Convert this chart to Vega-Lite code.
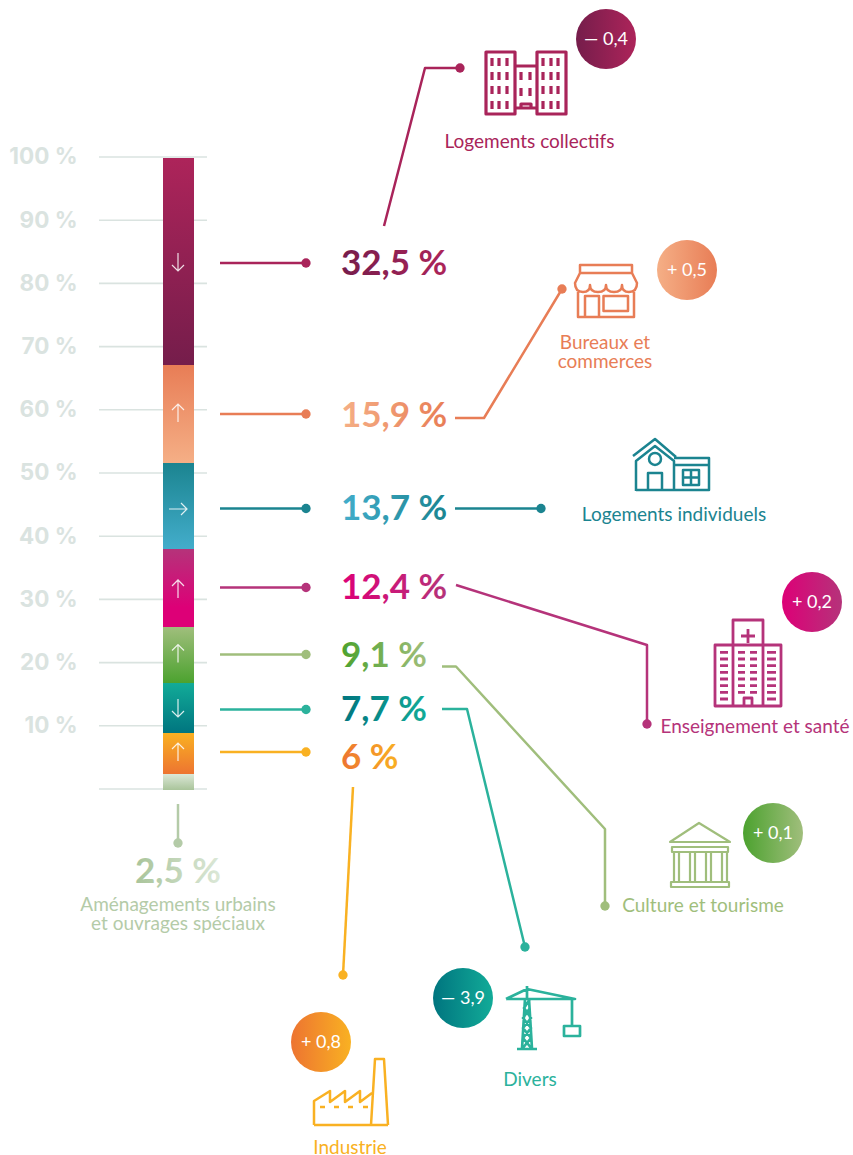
{
"$schema":"https://vega.github.io/schema/vega-lite/v6.json",
"width":853,"height":1155,"padding":0,"autosize":{"type":"none"},
"background":"#ffffff",
"config":{"view":{"stroke":null}},
"datasets":{
"segments":[
{"series":"Logements collectifs","share":32.5,"low":67.25,"high":100,"arrow":"down","arrowPct":83.39},
{"series":"Bureaux et commerces","share":15.9,"low":51.74,"high":67.25,"arrow":"up","arrowPct":59.49},
{"series":"Logements individuels","share":13.7,"low":38.13,"high":51.74,"arrow":"flat","arrowPct":44.3},
{"series":"Enseignement et santé","share":12.4,"low":25.79,"high":38.13,"arrow":"up","arrowPct":31.65},
{"series":"Culture et tourisme","share":9.1,"low":16.93,"high":25.79,"arrow":"up","arrowPct":21.44},
{"series":"Divers","share":7.7,"low":9.02,"high":16.93,"arrow":"down","arrowPct":12.82},
{"series":"Industrie","share":6,"low":2.53,"high":9.02,"arrow":"up","arrowPct":5.85},
{"series":"Aménagements urbains et ouvrages spéciaux","share":2.5,"low":0,"high":2.53}
],
"ticks":[{"pct":0},{"pct":10},{"pct":20},{"pct":30},{"pct":40},{"pct":50},{"pct":60},{"pct":70},{"pct":80},{"pct":90},{"pct":100}],
"connectors":[
{"series":"Logements collectifs","leg":"a1","step":1,"x":220,"pct":83.23},{"series":"Logements collectifs","leg":"a1","step":2,"x":306,"pct":83.23},
{"series":"Logements collectifs","leg":"a2","step":1,"x":384,"pct":89.08},{"series":"Logements collectifs","leg":"a2","step":2,"x":425,"pct":114.08},{"series":"Logements collectifs","leg":"a2","step":3,"x":460,"pct":114.08},
{"series":"Bureaux et commerces","leg":"b1","step":1,"x":220,"pct":59.34},{"series":"Bureaux et commerces","leg":"b1","step":2,"x":306,"pct":59.34},
{"series":"Bureaux et commerces","leg":"b2","step":1,"x":455,"pct":58.7},{"series":"Bureaux et commerces","leg":"b2","step":2,"x":484,"pct":58.7},{"series":"Bureaux et commerces","leg":"b2","step":3,"x":562,"pct":79.11},
{"series":"Logements individuels","leg":"c1","step":1,"x":220,"pct":44.38},{"series":"Logements individuels","leg":"c1","step":2,"x":306,"pct":44.38},
{"series":"Logements individuels","leg":"c2","step":1,"x":455,"pct":44.38},{"series":"Logements individuels","leg":"c2","step":2,"x":541,"pct":44.38},
{"series":"Enseignement et santé","leg":"d1","step":1,"x":220,"pct":31.88},{"series":"Enseignement et santé","leg":"d1","step":2,"x":306,"pct":31.88},
{"series":"Enseignement et santé","leg":"d2","step":1,"x":456,"pct":32.28},{"series":"Enseignement et santé","leg":"d2","step":2,"x":647,"pct":22.78},{"series":"Enseignement et santé","leg":"d2","step":3,"x":647,"pct":10.28},
{"series":"Culture et tourisme","leg":"e1","step":1,"x":220,"pct":21.28},{"series":"Culture et tourisme","leg":"e1","step":2,"x":306,"pct":21.28},
{"series":"Culture et tourisme","leg":"e2","step":1,"x":442,"pct":19.38},{"series":"Culture et tourisme","leg":"e2","step":2,"x":456,"pct":19.38},{"series":"Culture et tourisme","leg":"e2","step":3,"x":605,"pct":-6.33},{"series":"Culture et tourisme","leg":"e2","step":4,"x":605,"pct":-18.51},
{"series":"Divers","leg":"f1","step":1,"x":220,"pct":12.58},{"series":"Divers","leg":"f1","step":2,"x":306,"pct":12.58},
{"series":"Divers","leg":"f2","step":1,"x":442,"pct":12.66},{"series":"Divers","leg":"f2","step":2,"x":467,"pct":12.66},{"series":"Divers","leg":"f2","step":3,"x":525,"pct":-25},
{"series":"Industrie","leg":"g1","step":1,"x":220,"pct":5.85},{"series":"Industrie","leg":"g1","step":2,"x":306,"pct":5.85},
{"series":"Industrie","leg":"g2","step":1,"x":353,"pct":0.32},{"series":"Industrie","leg":"g2","step":2,"x":343,"pct":-29.43},
{"series":"Aménagements urbains et ouvrages spéciaux","leg":"h1","step":1,"x":178,"pct":-2.37},{"series":"Aménagements urbains et ouvrages spéciaux","leg":"h1","step":2,"x":178,"pct":-8.54}
],
"dots":[
{"series":"Logements collectifs","x":306,"pct":83.23},{"series":"Logements collectifs","x":460,"pct":114.08},
{"series":"Bureaux et commerces","x":306,"pct":59.34},{"series":"Bureaux et commerces","x":562,"pct":79.11},
{"series":"Logements individuels","x":306,"pct":44.38},{"series":"Logements individuels","x":541,"pct":44.38},
{"series":"Enseignement et santé","x":306,"pct":31.88},{"series":"Enseignement et santé","x":647,"pct":10.28},
{"series":"Culture et tourisme","x":306,"pct":21.28},{"series":"Culture et tourisme","x":605,"pct":-18.51},
{"series":"Divers","x":306,"pct":12.58},{"series":"Divers","x":525,"pct":-25},
{"series":"Industrie","x":306,"pct":5.85},{"series":"Industrie","x":343,"pct":-29.43},
{"series":"Aménagements urbains et ouvrages spéciaux","x":178,"pct":-8.54}
],
"values":[
{"series":"Logements collectifs","label":"32,5 %","x":341,"pct":83.07},
{"series":"Bureaux et commerces","label":"15,9 %","x":341,"pct":59.02},
{"series":"Logements individuels","label":"13,7 %","x":341,"pct":44.3},
{"series":"Enseignement et santé","label":"12,4 %","x":341,"pct":31.8},
{"series":"Culture et tourisme","label":"9,1 %","x":341,"pct":21.04},
{"series":"Divers","label":"7,7 %","x":341,"pct":12.5},
{"series":"Industrie","label":"6 %","x":341,"pct":4.9}
],
"small":[{"series":"Aménagements urbains et ouvrages spéciaux","label":"2,5 %","x":178,"pct":-13.13}],
"names":[
{"series":"Logements collectifs","label":"Logements collectifs","x":529.5,"pct":102.3},
{"series":"Bureaux et commerces","label":"Bureaux et\ncommerces","x":605,"pct":70.57},
{"series":"Logements individuels","label":"Logements individuels","x":674,"pct":43.28},
{"series":"Enseignement et santé","label":"Enseignement et santé","x":755,"pct":9.74},
{"series":"Culture et tourisme","label":"Culture et tourisme","x":703,"pct":-18.58},
{"series":"Divers","label":"Divers","x":530,"pct":-46.12},
{"series":"Industrie","label":"Industrie","x":350,"pct":-56.8},
{"series":"Aménagements urbains et ouvrages spéciaux","label":"Aménagements urbains\net ouvrages spéciaux","x":178,"pct":-18.35}
],
"badges":[
{"series":"Logements collectifs","change":"— 0,4","x":606,"pct":118.67},
{"series":"Bureaux et commerces","change":"+ 0,5","x":687,"pct":82.12},
{"series":"Enseignement et santé","change":"+ 0,2","x":812,"pct":29.59},
{"series":"Culture et tourisme","change":"+ 0,1","x":773,"pct":-6.96},
{"series":"Divers","change":"— 3,9","x":463,"pct":-33.07},
{"series":"Industrie","change":"+ 0,8","x":321,"pct":-40.03}
],
"icons":[
{"series":"Logements collectifs","x":526,"pct":111.71},
{"series":"Bureaux et commerces","x":606,"pct":78.8},
{"series":"Logements individuels","x":671,"pct":51.27},
{"series":"Enseignement et santé","x":748,"pct":19.94},
{"series":"Culture et tourisme","x":700,"pct":-10.44},
{"series":"Divers","x":543,"pct":-36.23},
{"series":"Industrie","x":350,"pct":-47.94}
]
},
"encoding":{
"y":{"field":"pct","type":"quantitative","scale":{"domain":[-57.91,124.84],"nice":false,"zero":false},
"axis":{"title":null,"values":[10,20,30,40,50,60,70,80,90,100],"labelExpr":"datum.value + ' %'","domain":false,"ticks":false,"grid":false,"offset":-77,"labelPadding":0,"labelFont":"Inter","labelFontWeight":700,"labelFontSize":22.5,"labelColor":"#DAE3E0","labelOverlap":false,"labelBound":false,"labelFlush":false}}
},
"resolve":{"scale":{"shape":"independent"}},
"layer":[
{"data":{"name":"ticks"},"mark":{"type":"rule","color":"#DAE3E0","strokeWidth":1.6},
"encoding":{"x":{"datum":99,"type":"quantitative","scale":{"domain":[0,853],"nice":false,"zero":false},"axis":null},"x2":{"datum":207}}},
{"data":{"name":"segments"},"mark":{"type":"bar","yOffset":1,"y2Offset":1},
"encoding":{"x":{"datum":163,"type":"quantitative","scale":{"domain":[0,853],"nice":false,"zero":false},"axis":null},"x2":{"datum":194},
"y":{"field":"high","type":"quantitative","scale":{"domain":[-57.91,124.84],"nice":false,"zero":false}},"y2":{"field":"low"},
"fill":{"condition":[
{"test":"datum.series==='Logements collectifs'","value":{"gradient":"linear","x1":0,"y1":0,"x2":0,"y2":1,"stops":[{"offset":0,"color":"#AD245A"},{"offset":1,"color":"#751D4B"}]}},
{"test":"datum.series==='Bureaux et commerces'","value":{"gradient":"linear","x1":0,"y1":0,"x2":0,"y2":1,"stops":[{"offset":0,"color":"#E87D56"},{"offset":1,"color":"#F5AF86"}]}},
{"test":"datum.series==='Logements individuels'","value":{"gradient":"linear","x1":0,"y1":0,"x2":0,"y2":1,"stops":[{"offset":0,"color":"#1B8490"},{"offset":1,"color":"#43ADCB"}]}},
{"test":"datum.series==='Enseignement et santé'","value":{"gradient":"linear","x1":0,"y1":0,"x2":0,"y2":1,"stops":[{"offset":0,"color":"#B5337A"},{"offset":0.75,"color":"#DD0077"},{"offset":1,"color":"#DD0077"}]}},
{"test":"datum.series==='Culture et tourisme'","value":{"gradient":"linear","x1":0,"y1":0,"x2":0,"y2":1,"stops":[{"offset":0,"color":"#A0BE7C"},{"offset":1,"color":"#4CA22F"}]}},
{"test":"datum.series==='Divers'","value":{"gradient":"linear","x1":0,"y1":0,"x2":0,"y2":1,"stops":[{"offset":0,"color":"#12AB98"},{"offset":1,"color":"#00757F"}]}},
{"test":"datum.series==='Industrie'","value":{"gradient":"linear","x1":0,"y1":0,"x2":0,"y2":1,"stops":[{"offset":0,"color":"#F9B122"},{"offset":1,"color":"#ED7431"}]}}],
"value":{"gradient":"linear","x1":0,"y1":0,"x2":0,"y2":1,"stops":[{"offset":0,"color":"#DCE8D8"},{"offset":1,"color":"#A9C49A"}]}}}},
{"data":{"name":"segments"},"transform":[{"filter":"isValid(datum.arrow)"}],
"mark":{"type":"point","filled":false,"opacity":0.85,"color":"#ffffff","strokeWidth":1.2,"size":4},
"encoding":{"x":{"datum":178,"type":"quantitative","scale":{"domain":[0,853],"nice":false,"zero":false},"axis":null},
"y":{"field":"arrowPct","type":"quantitative","scale":{"domain":[-57.91,124.84],"nice":false,"zero":false}},
"shape":{"field":"arrow","type":"nominal","legend":null,"scale":{"domain":["up","down","flat"],"range":["M0,9V-9M-6,-3L0,-9L6,-3","M0,-9V9M-6,3L0,9L6,3","M-9,0H9M3,-6L9,0L3,6"]}}}},
{"encoding":{"x":{"field":"x","type":"quantitative","scale":{"domain":[0,853],"nice":false,"zero":false},"axis":null}},
"layer":[
{"data":{"name":"connectors"},"mark":{"type":"line","strokeWidth":2.5,"strokeJoin":"round"},
"encoding":{"detail":{"field":"leg"},"order":{"field":"step","type":"quantitative"},
"color":{"field":"series","type":"nominal","legend":null,"scale":{"domain":["Logements collectifs","Bureaux et commerces","Logements individuels","Enseignement et santé","Culture et tourisme","Divers","Industrie","Aménagements urbains et ouvrages spéciaux"],"range":["#A9245A","#E87D56","#1B8490","#B5337A","#A0BE7C","#2BB29C","#F9B122","#B4CBA8"]}}}},
{"data":{"name":"dots"},"mark":{"type":"point","filled":true,"opacity":1,"size":87},
"encoding":{"color":{"field":"series","type":"nominal","legend":null,"scale":{"domain":["Logements collectifs","Bureaux et commerces","Logements individuels","Enseignement et santé","Culture et tourisme","Divers","Industrie","Aménagements urbains et ouvrages spéciaux"],"range":["#A9245A","#E87D56","#1B8490","#B5337A","#A0BE7C","#2BB29C","#F9B122","#B4CBA8"]}}}},
{"data":{"name":"values"},"mark":{"type":"text","align":"left","baseline":"middle","font":"Lato","fontWeight":700,"fontSize":35},
"encoding":{"text":{"field":"label"},
"fill":{"condition":[
{"test":"datum.series==='Logements collectifs'","value":{"gradient":"linear","x1":0,"y1":0,"x2":1,"y2":0,"stops":[{"offset":0,"color":"#751D4B"},{"offset":1,"color":"#AD245A"}]}},
{"test":"datum.series==='Bureaux et commerces'","value":{"gradient":"linear","x1":0,"y1":0,"x2":1,"y2":0,"stops":[{"offset":0,"color":"#F5AF86"},{"offset":1,"color":"#E87D56"}]}},
{"test":"datum.series==='Logements individuels'","value":{"gradient":"linear","x1":0,"y1":0,"x2":1,"y2":0,"stops":[{"offset":0,"color":"#43ADCB"},{"offset":1,"color":"#1B8490"}]}},
{"test":"datum.series==='Enseignement et santé'","value":{"gradient":"linear","x1":0,"y1":0,"x2":1,"y2":0,"stops":[{"offset":0,"color":"#DD0077"},{"offset":1,"color":"#B5337A"}]}},
{"test":"datum.series==='Culture et tourisme'","value":{"gradient":"linear","x1":0,"y1":0,"x2":1,"y2":0,"stops":[{"offset":0,"color":"#4CA22F"},{"offset":1,"color":"#A0BE7C"}]}},
{"test":"datum.series==='Divers'","value":{"gradient":"linear","x1":0,"y1":0,"x2":1,"y2":0,"stops":[{"offset":0,"color":"#00757F"},{"offset":1,"color":"#12AB98"}]}}],
"value":{"gradient":"linear","x1":0,"y1":0,"x2":1,"y2":0,"stops":[{"offset":0,"color":"#ED7431"},{"offset":1,"color":"#F9B122"}]}}}},
{"data":{"name":"small"},"mark":{"type":"text","align":"center","baseline":"middle","font":"Lato","fontWeight":700,"fontSize":35,
"fill":{"gradient":"linear","x1":0,"y1":0,"x2":1,"y2":0,"stops":[{"offset":0,"color":"#A9C49A"},{"offset":1,"color":"#DCE8D8"}]}},
"encoding":{"text":{"field":"label"}}},
{"data":{"name":"names"},"mark":{"type":"text","align":"center","baseline":"middle","font":"Lato","fontSize":19,"lineBreak":"\n","lineHeight":19.5},
"encoding":{"text":{"field":"label"},
"color":{"field":"series","type":"nominal","legend":null,"scale":{"domain":["Logements collectifs","Bureaux et commerces","Logements individuels","Enseignement et santé","Culture et tourisme","Divers","Industrie","Aménagements urbains et ouvrages spéciaux"],"range":["#A9245A","#E87D56","#1B8490","#B5337A","#A0BE7C","#2BB29C","#F9B122","#B4CBA8"]}}}},
{"data":{"name":"badges"},"mark":{"type":"point","filled":true,"opacity":1,"shape":"circle","size":3600},
"encoding":{"fill":{"condition":[
{"test":"datum.series==='Logements collectifs'","value":{"gradient":"linear","x1":0,"y1":0,"x2":1,"y2":0,"stops":[{"offset":0,"color":"#751D4B"},{"offset":1,"color":"#AD245A"}]}},
{"test":"datum.series==='Bureaux et commerces'","value":{"gradient":"linear","x1":0,"y1":0,"x2":1,"y2":0,"stops":[{"offset":0,"color":"#F5AF86"},{"offset":1,"color":"#E87D56"}]}},
{"test":"datum.series==='Enseignement et santé'","value":{"gradient":"linear","x1":0,"y1":0,"x2":1,"y2":0,"stops":[{"offset":0,"color":"#DD0077"},{"offset":1,"color":"#B5337A"}]}},
{"test":"datum.series==='Culture et tourisme'","value":{"gradient":"linear","x1":0,"y1":0,"x2":1,"y2":0,"stops":[{"offset":0,"color":"#4CA22F"},{"offset":1,"color":"#A0BE7C"}]}},
{"test":"datum.series==='Divers'","value":{"gradient":"linear","x1":0,"y1":0,"x2":1,"y2":0,"stops":[{"offset":0,"color":"#00757F"},{"offset":1,"color":"#12AB98"}]}}],
"value":{"gradient":"linear","x1":0,"y1":0,"x2":1,"y2":0,"stops":[{"offset":0,"color":"#ED7431"},{"offset":1,"color":"#F9B122"}]}}}},
{"data":{"name":"badges"},"mark":{"type":"text","align":"center","baseline":"middle","font":"Lato","fontSize":18,"color":"#ffffff","dy":1},
"encoding":{"text":{"field":"change"}}},
{"data":{"name":"icons"},"mark":{"type":"point","filled":false,"opacity":1,"size":4,"strokeJoin":"round"},
"encoding":{
"strokeWidth":{"condition":[{"test":"datum.series==='Logements collectifs'","value":3.2},{"test":"datum.series==='Enseignement et santé'","value":2.8},{"test":"datum.series==='Divers'","value":2.7},{"test":"datum.series==='Culture et tourisme'","value":2.2}],"value":2.5},
"color":{"field":"series","type":"nominal","legend":null,"scale":{"domain":["Logements collectifs","Bureaux et commerces","Logements individuels","Enseignement et santé","Culture et tourisme","Divers","Industrie","Aménagements urbains et ouvrages spéciaux"],"range":["#A9245A","#E87D56","#1B8490","#B5337A","#A0BE7C","#2BB29C","#F9B122","#B4CBA8"]}},
"shape":{"field":"series","type":"nominal","legend":null,"scale":{"domain":["Logements collectifs","Bureaux et commerces","Logements individuels","Enseignement et santé","Culture et tourisme","Divers","Industrie"],
"range":[
"M-40,-31H-11V31H-40ZM11,-31H40V31H11ZM-11,-17H11M-11,25H11M-5,25V21H5V25M-34,-25v8M-27,-25v8M-19,-25v8M17,-25v8M25,-25v8M32,-25v8M-34,-11v8M-27,-11v8M-19,-11v8M17,-11v8M25,-11v8M32,-11v8M-34,3v8M-27,3v8M-19,3v8M17,3v8M25,3v8M32,3v8M-34,18v8M-27,18v8M-19,18v8M17,18v8M25,18v8M32,18v8M-5,-11v8M4,-11v8M-5,5v8M4,5v8",
"M-26,-18V-26H26V-18ZM-26,-18L-31,-8Q-31,1 -23,1Q-16,1 -16,-6Q-16,1 -8,1Q0,1 0,-6Q0,1 8,1Q16,1 16,-6Q16,1 23,1Q31,1 31,-8L26,-18M-28,1V26H28V1M-21,26V5H-7V26M-2.5,5H22V20H-2.5Z",
"M-38,-9L-16,-26L5,-8M-35,26V-4L-16,-19L3,-4V26M-35,25H38V-7H3M3,0H38M-22,-6a6,6 0 1,0 12,0a6,6 0 1,0 -12,0M-23,25V8H-9V25M12,5H28V20H12ZM20,5V20M12,12.5H28",
"M-33,-18V43H33V-18ZM-15,-18V-43H15V-18M-15,-18V43M15,-18V43M0,-34V-20M-7,-27H7M-4,43V35H4V43M-28,-10.7H-20M-10,-10.7H-3M2,-10.7H9M19,-10.7H28M-28,-4H-20M-10,-4H-3M2,-4H9M19,-4H28M-28,2.7H-20M-10,2.7H-3M2,2.7H9M19,2.7H28M-28,9.4H-20M-10,9.4H-3M2,9.4H9M19,9.4H28M-28,16H-20M-10,16H-3M2,16H9M19,16H28M-28,22.7H-20M-10,22.7H-3M2,22.7H9M19,22.7H28M-28,29.3H-20M-10,29.3H-3M2,29.3H9M19,29.3H28M-28,36H-20M19,36H28",
"M-30,-13L-1,-32L30,-13ZM-28,-8H28V-3H-28ZM-26,-3V27M-21,-3V27M-10,-3V27M-5,-3V27M6,-3V27M11,-3V27M22,-3V27M27,-3V27M-29,27H29V32H-29Z",
"M-26,31H-6M-21,31L-18,-19M-11,31L-14,-19M-16,-32V-19M-37,-19L-16,-29L32,-19H-37M29,-19V8M21,8H37V18H21ZM-21,31L-12,20L-20,10L-12,0L-19,-10L-13,-19M-11,31L-20,20L-12,10L-20,0L-13,-10",
"M-36,33V9L-20,-1V10L-5,-1V10L10,-1V10L22,1M-36,33H38M21,33L25,-33H34L38,33M-30,15h5M-16,15h5M-2,15h5M13,15h5"
]}}}}
]}
]
}
